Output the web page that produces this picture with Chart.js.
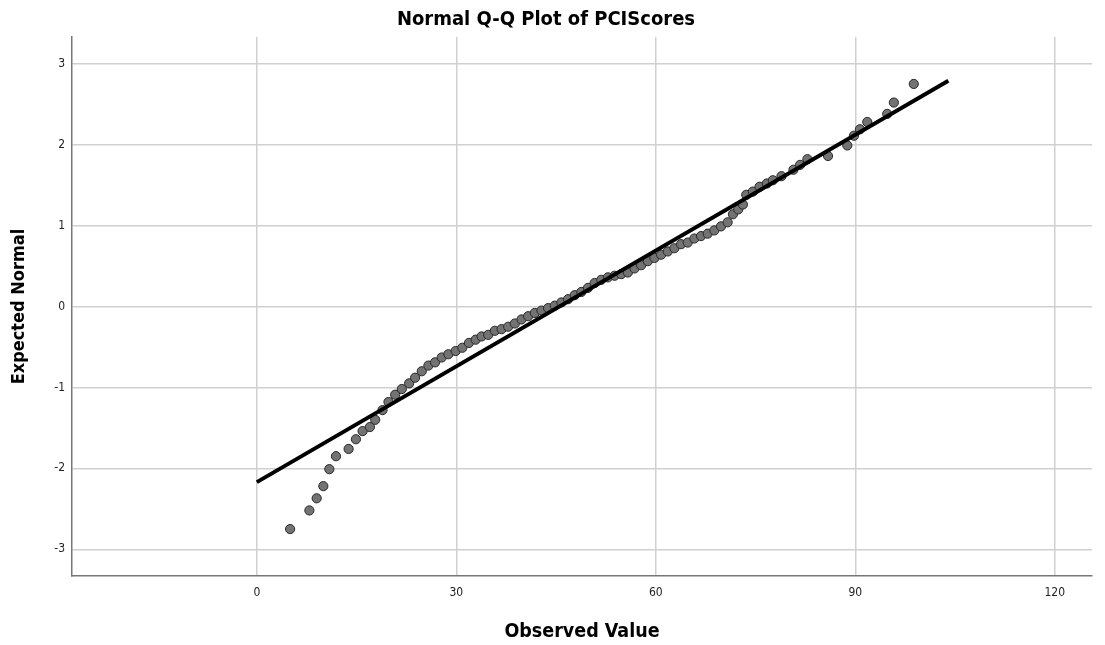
<!DOCTYPE html>
<html>
<head>
<meta charset="utf-8">
<script src="https://cdn.jsdelivr.net/npm/chart.js@4.4.1/dist/chart.umd.min.js"></script>
<style>
  body { margin: 0; background: #fff; }
  #caixa { width: 1105px; height: 645px; }
</style>
</head>
<body>
<div id="caixa"><canvas id="graficoQQ"></canvas></div>
<script>
// valores
const observado = [5.0, 7.9, 9.0, 10.0, 10.9, 11.9, 13.8, 14.9, 15.9, 17.0, 17.8, 18.9, 19.8, 20.8, 21.8,
  22.9, 23.8, 24.8, 25.8, 26.8, 27.8, 28.8, 29.9, 30.9, 31.9, 32.9, 33.8, 34.8, 35.8, 36.8, 37.8,
  38.8, 39.8, 40.8, 41.8, 42.8, 43.8, 44.8, 45.8, 46.8, 47.8, 48.8, 49.8, 50.8, 51.8, 52.8, 53.8,
  54.8, 55.8, 56.8, 57.8, 58.8, 59.8, 60.8, 61.8, 62.8, 63.8, 64.8, 65.8, 66.8, 67.8, 68.8, 69.8,
  70.8, 71.6, 72.4, 73.1, 73.6, 74.6, 75.6, 76.7, 77.6, 78.9, 80.7, 81.7, 82.8, 85.9, 88.8, 89.8,
  90.7, 91.8, 94.8, 95.8, 98.8];
const esperado = [-2.75, -2.52, -2.37, -2.22, -2.01, -1.85, -1.76, -1.64, -1.54, -1.49, -1.40, -1.28, -1.18, -1.09, -1.02,
  -0.95, -0.88, -0.80, -0.73, -0.69, -0.63, -0.59, -0.55, -0.51, -0.45, -0.41, -0.37, -0.35, -0.30, -0.28, -0.25,
  -0.21, -0.16, -0.12, -0.08, -0.05, -0.02, 0.01, 0.05, 0.09, 0.14, 0.18, 0.23, 0.29, 0.33, 0.36, 0.38,
  0.40, 0.42, 0.47, 0.51, 0.56, 0.60, 0.64, 0.68, 0.72, 0.77, 0.79, 0.84, 0.87, 0.90, 0.94, 0.99,
  1.04, 1.14, 1.20, 1.26, 1.38, 1.42, 1.48, 1.52, 1.56, 1.61, 1.69, 1.75, 1.82, 1.86, 1.99, 2.11,
  2.19, 2.28, 2.38, 2.52, 2.75];

// reta de referência
const retaX = [0, 104];
const retaY = [-2.17, 2.79];

const ticksX = [0, 30, 60, 90, 120];
const ticksY = [-3, -2, -1, 0, 1, 2, 3];

const fonte = "'DejaVu Sans Condensed', 'DejaVu Sans', sans-serif";

const pontos = observado.map((v, i) => ({ x: v, y: esperado[i] }));
const reta = retaX.map((v, i) => ({ x: v, y: retaY[i] }));

const graficoQQ = new Chart(document.getElementById('graficoQQ'), {
  type: 'scatter',
  data: {
    datasets: [{
      label: 'Reta',
      data: reta,
      showLine: true,
      borderColor: '#000',
      borderWidth: 4,
      pointRadius: 0,
      order: 1
    }, {
      label: 'PCIScores',
      data: pontos,
      backgroundColor: 'rgb(115,115,115)',
      borderColor: 'rgb(40,40,40)',
      borderWidth: 1,
      pointRadius: 4.6,
      order: 2
    }]
  },
  options: {
    responsive: true,
    maintainAspectRatio: false,
    animation: false,
    layout: { padding: { left: 0, right: 13, top: 0, bottom: 0 } },
    plugins: {
      legend: { display: false },
      tooltip: { enabled: false },
      title: {
        display: true,
        text: 'Normal Q-Q Plot of PCIScores',
        color: '#000',
        font: { family: fonte, size: 20, weight: 'bold', lineHeight: 1.2 },
        padding: { top: 8, bottom: 5 }
      }
    },
    scales: {
      x: {
        type: 'linear',
        min: -27.8,
        max: 125.6,
        afterBuildTicks: s => { s.ticks = ticksX.map(v => ({ value: v })); },
        afterFit: s => { s.height = 69; },
        grid: { color: '#d0d0d0', lineWidth: 1.5, drawTicks: false },
        border: { color: '#777', width: 1.5 },
        ticks: { color: '#222', padding: 10, font: { family: fonte, size: 12 } },
        title: {
          display: true,
          text: 'Observed Value',
          color: '#000',
          font: { family: fonte, size: 19.5, weight: 'bold', lineHeight: 1.2 },
          padding: { top: 0, bottom: 1 }
        }
      },
      y: {
        type: 'linear',
        min: -3.33,
        max: 3.33,
        afterBuildTicks: s => { s.ticks = ticksY.map(v => ({ value: v })); },
        afterFit: s => { s.width = 72; },
        grid: { color: '#d0d0d0', lineWidth: 1.5, drawTicks: false },
        border: { color: '#777', width: 1.5 },
        ticks: { color: '#222', padding: 7, font: { family: fonte, size: 12 } },
        title: {
          display: true,
          text: 'Expected Normal',
          color: '#000',
          font: { family: fonte, size: 18, weight: 'bold', lineHeight: 1.2 },
          padding: { top: 9, bottom: 0 }
        }
      }
    }
  }
});
</script>
</body>
</html>
